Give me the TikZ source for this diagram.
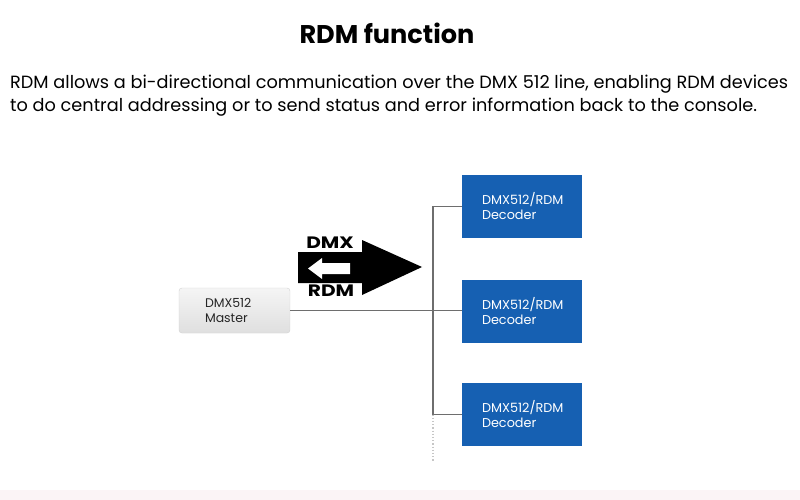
\documentclass[tikz,border=0pt]{standalone}
\usepackage{fontspec}
\setmainfont{Poppins}
\definecolor{decblue}{HTML}{1660B2}
\definecolor{linegray}{HTML}{6E6E6E}
\definecolor{pinkbg}{HTML}{FBF4F6}
\begin{document}
\begin{tikzpicture}[x=1pt,y=-1pt,
  decoder/.style={rectangle, fill=decblue, text=white, minimum width=120pt, minimum height=63pt,
    text width=80pt, inner xsep=20pt, align=left, font=\fontsize{12.8}{15}\selectfont},
  masterbox/.style={rectangle, rounded corners=3pt, draw=gray!35, top color=gray!8, bottom color=gray!25,
    minimum width=111pt, minimum height=45pt, text width=59pt, inner xsep=26pt, align=left,
    font=\fontsize{12.5}{15}\selectfont, text=black!85},
  conn/.style={draw=linegray, line width=1.2pt},
  arrowlbl/.style={font=\bfseries\fontsize{16.5}{18}\selectfont, xscale=1.22}]
\useasboundingbox (0,0) rectangle (800,500);
\fill[white] (0,0) rectangle (800,500);
\fill[pinkbg] (0,490) rectangle (800,500);
\node[font=\bfseries\fontsize{25.6}{30}\selectfont] (title) at (387,33) {RDM function};
\node[anchor=west, font=\fontsize{17.7}{22}\selectfont, inner sep=0pt] (line1) at (10,84) {RDM allows a bi-directional communication over the DMX 512 line, enabling RDM devices};
\node[anchor=west, font=\fontsize{17.7}{22}\selectfont, inner sep=0pt] (line2) at (10,107) {to do central addressing or to send status and error information back to the console.};
% arrow
\fill[black] (298,252) -- (362,252) -- (362,240) -- (422,267) -- (362,295) -- (362,283) -- (298,283) -- cycle;
\fill[white] (350,263) -- (322,263) -- (322,258) -- (308,268.5) -- (322,279) -- (322,274) -- (350,274) -- cycle;
\node[arrowlbl] (dmxlbl) at (330,243) {DMX};
\node[arrowlbl] (rdmlbl) at (331,291) {RDM};
% nodes
\node[masterbox] (master) at (234.5,310.5) {DMX512\\Master};
\node[decoder] (dec1) at (522,206.5) {DMX512/RDM\\Decoder};
\node[decoder] (dec2) at (522,311) {DMX512/RDM\\Decoder};
\node[decoder] (dec3) at (522,414.5) {DMX512/RDM\\Decoder};
\coordinate (busend) at (433,462);
% connectors
\draw[conn] (master.east) -- (master.east -| dec2.west);
\draw[conn] (dec1.west) -- (dec1.west -| busend) |- (dec3.west);
\draw[draw=gray!45, line width=1.2pt, dotted] (dec3.west -| busend) -- (busend);
\end{tikzpicture}
\end{document}
